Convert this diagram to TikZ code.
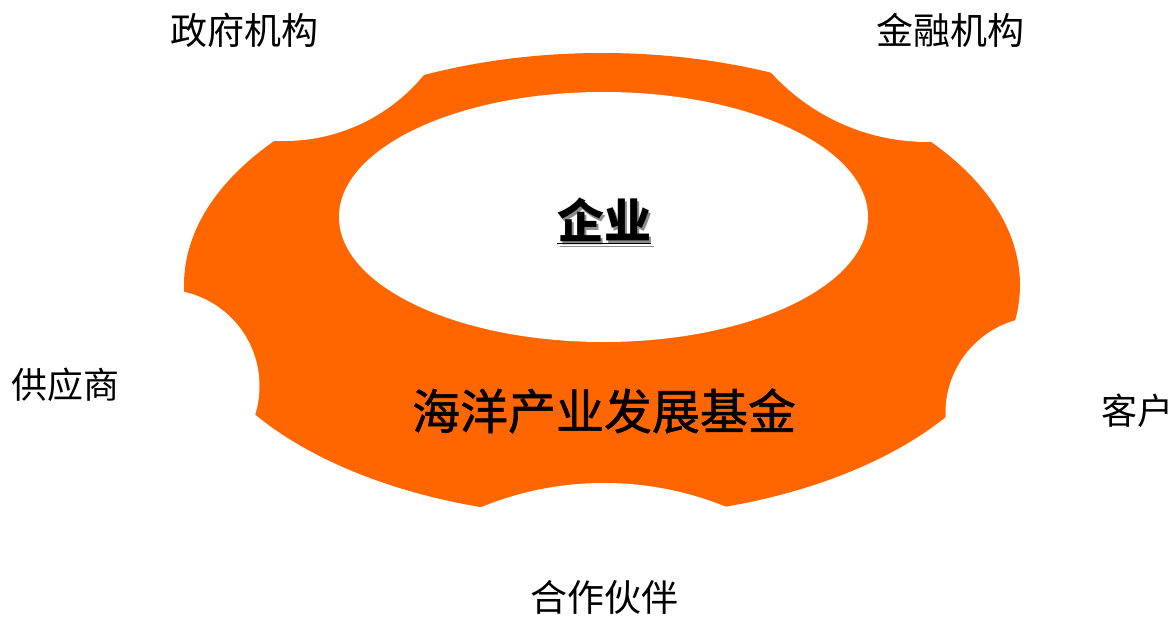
\documentclass[tikz,border=0pt]{standalone}
\usepackage{fontspec}
\newfontfamily\cjk{Noto Sans CJK SC}
\newfontfamily\cjkmid[FakeBold=1.2]{Noto Sans CJK SC}
\definecolor{gearorange}{RGB}{255,102,0}
\begin{document}
\begin{tikzpicture}[x=1pt,y=-1pt,
  label/.style={font=\cjk\fontsize{36}{36}\selectfont, inner sep=0pt, anchor=center},
  mid/.style={font=\cjk\bfseries\fontsize{47}{47}\selectfont, inner sep=0pt, anchor=center}]
\useasboundingbox (0,0) rectangle (1176,618);
% gear ring
\fill[gearorange] (602,285) ellipse [x radius=418pt, y radius=232pt];
\fill[white]
    (603.5,217) ellipse [x radius=264.5pt, y radius=125pt]
    (284,-40) circle [radius=181pt]
    (928,-70) circle [radius=212pt]
    (163,386) circle [radius=96.5pt]
    (1042,413) circle [radius=96.5pt]
    (604,806) circle [radius=323pt];
% centre texts
\node[mid, text=black!45] (qyshadow) at (606.5,223.5) {\underline{企业}};
\node[mid] (qy) at (604,221) {\underline{企业}};
\node[font=\cjkmid\fontsize{48}{48}\selectfont, inner sep=0pt] (fund) at (604,411) {海洋产业发展基金};
% outer labels
\node[label, font=\cjk\fontsize{37}{37}\selectfont] (gov) at (244.5,30) {政府机构};
\node[label, font=\cjk\fontsize{37}{37}\selectfont] (fin) at (950.5,30) {金融机构};
\node[label] (sup) at (66,385) {供应商};
\node[label] (cus) at (1137.5,411) {客户};
\node[label, font=\cjk\fontsize{37}{37}\selectfont] (par) at (604.5,597) {合作伙伴};
\end{tikzpicture}
\end{document}
